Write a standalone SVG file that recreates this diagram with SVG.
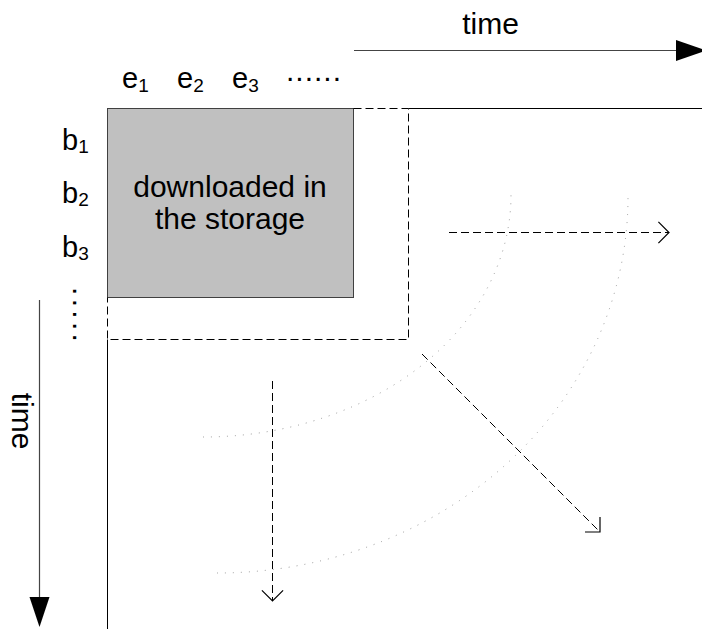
<svg xmlns="http://www.w3.org/2000/svg" width="702" height="629" viewBox="0 0 702 629">
<defs>
<style>
text{font-family:"Liberation Sans",Arial,sans-serif;fill:#000}
.lbl{font-size:29px}
.sub{font-size:19px}
.big{font-size:30px}
.solid{fill:none;stroke:#000;stroke-width:1}
.dash{fill:none;stroke:#000;stroke-width:1;stroke-dasharray:8 4}
.dot{fill:none;stroke:#999;stroke-width:1;stroke-dasharray:1 7}
.axis{fill:none;stroke:#444;stroke-width:1.2}
</style>
<marker id="open" viewBox="-12 -12 14 24" markerWidth="14" markerHeight="24" refX="0" refY="0" orient="auto" markerUnits="userSpaceOnUse">
<path d="M -10.6 -10.6 L 0 0 L -10.6 10.6" fill="none" stroke="#000" stroke-width="1.2" stroke-dasharray="none"/>
</marker>
</defs>
<rect width="702" height="629" fill="#fff"/>

<g id="storage">
<rect x="107.5" y="108.5" width="246" height="189" fill="#c0c0c0" stroke="#404040" stroke-width="1"/>
<text class="big" x="230" y="197" text-anchor="middle">downloaded in</text>
<text class="big" x="230" y="229" text-anchor="middle">the storage</text>
</g>

<g id="window">
<path class="dash" d="M 353.5 108.5 H 408.5 V 339.5 H 107.5 V 297.5"/>
</g>

<g id="axes">
<path class="solid" d="M 408.5 108.5 H 702"/>
<path class="solid" d="M 107.5 339.5 V 629"/>
</g>

<g id="time-top">
<line class="axis" x1="354" y1="50.5" x2="680" y2="50.5"/>
<polygon points="676,40 706,50.5 676,61" fill="#000"/>
<text class="big" x="490.5" y="34" text-anchor="middle">time</text>
</g>

<g id="time-left">
<line class="axis" x1="39.5" y1="300" x2="39.5" y2="600"/>
<polygon points="29.5,597 49.5,597 39.5,627" fill="#000"/>
<text class="big" transform="translate(12,421) rotate(90)" text-anchor="middle">time</text>
</g>

<g id="col-labels">
<text class="lbl" x="122" y="88">e<tspan class="sub" dy="4">1</tspan></text>
<text class="lbl" x="177" y="88">e<tspan class="sub" dy="4">2</tspan></text>
<text class="lbl" x="232" y="88">e<tspan class="sub" dy="4">3</tspan></text>
<text class="big" x="286" y="81" letter-spacing="1">......</text>
</g>

<g id="row-labels">
<text class="lbl" x="62" y="150">b<tspan class="sub" dy="3">1</tspan></text>
<text class="lbl" x="62" y="203">b<tspan class="sub" dy="3">2</tspan></text>
<text class="lbl" x="62" y="257">b<tspan class="sub" dy="3">3</tspan></text>
<text class="big" transform="translate(73,287) rotate(90)" letter-spacing="3.3">.....</text>
</g>

<g id="arcs">
<path class="dot" d="M 203 437 A 308 242 0 0 0 511 195"/>
<path class="dot" d="M 217 573 A 411 376 0 0 0 628 197"/>
</g>

<g id="connectors">
<line class="dash" x1="449" y1="232.5" x2="669" y2="232.5" marker-end="url(#open)"/>
<line class="dash" x1="272.5" y1="381" x2="272.5" y2="601" marker-end="url(#open)"/>
<line class="dash" x1="422" y1="354" x2="600" y2="532" marker-end="url(#open)"/>
</g>
</svg>
